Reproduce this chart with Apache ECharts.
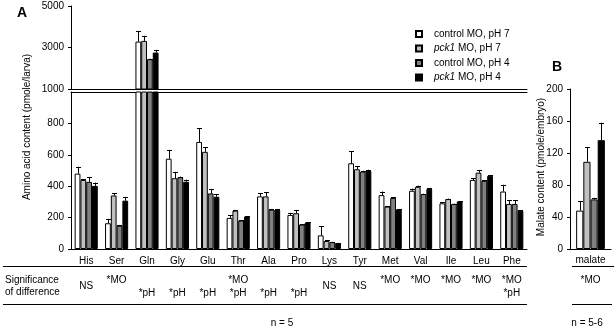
<!DOCTYPE html>
<html><head><meta charset="utf-8">
<script src="https://cdn.jsdelivr.net/npm/echarts@6/dist/echarts.min.js"></script>
<style>html,body{margin:0;padding:0;background:#fff}#c{width:614px;height:328px}</style>
</head><body><div id="c"></div>
<script>
const FONT = "'Liberation Sans', Arial, sans-serif";
const categories = ['His','Ser','Gln','Gly','Glu','Thr','Ala','Pro','Lys','Tyr','Met','Val','Ile','Leu','Phe'];
const seriesNames = ['control MO, pH 7','pck1 MO, pH 7','control MO, pH 4','pck1 MO, pH 4'];
const seriesColors = ['#ffffff','#c0c0c0','#808080','#000000'];
// panel A values (pmole/larva) and upward error
const ctrl7    = [480,164,3285,575,682,198,335,217,87,546,343,371,291,440,366];
const ctrl7Err = [44,28,513,57,89,17,19,13,58,78,23,14,7,11,43];
const pck7     = [440,341,3319,451,619,244,335,228,51,508,270,396,318,486,287];
const pck7Err  = [5,13,240,40,30,5,25,21,4,19,3,8,3,16,25];
const ctrl4    = [428,148,2440,457,354,181,251,156,44,493,325,350,287,434,287];
const ctrl4Err = [31,5,20,4,25,3,4,2,2,5,5,2,2,3,25];
const pck4     = [402,308,2757,428,333,207,251,169,38,497,253,383,303,466,244];
const pck4Err  = [21,21,130,14,17,3,4,2,1,8,2,3,2,4,2];
const significance = ['NS','*MO','*pH','*pH','*pH','*MO\n*pH','*pH','*pH','NS','NS','*MO','*MO','*MO','*MO','*MO\n*pH'];
const lowerTicks = [0,200,400,600,800];
const upperTicks = [1000,3000,5000];
const breakValue = 1000;
// panel B
const malateCategories = ['malate'];
const malate    = [48,109,62,136];
const malateErr = [12,18,2,22];
const malateSignificance = ['*MO'];

const valsA = [ctrl7, pck7, ctrl4, pck4];
const errsA = [ctrl7Err, pck7Err, ctrl4Err, pck4Err];

const GAP_A = 0.24, GAP_B = 0.30;
const txt = {color:'#000', fontFamily: FONT, fontSize: 10};
const plain = v => String(v);

function sigFormatter(v){
  if (v === 'NS') return '{m|NS}';
  if (v.indexOf('\n') >= 0) return v.split('\n').map(s => '{r|' + s + '}').join('\n');
  if (v === '*MO') return '{r|*MO}\n{r| }';
  return '{r| }\n{r|' + v + '}';
}
const sigRich = {r:{lineHeight:13, fontSize:10, fontFamily:FONT, color:'#000'}, m:{lineHeight:26, fontSize:10, fontFamily:FONT, color:'#000'}};

function errRender(gap){
  return function(params, api){
    const idx = api.value(0), top = api.value(1), err = api.value(2), k = api.value(3);
    const band = api.size([1,0])[0];
    const bw = band * (1 - gap) / 4;
    const c = api.coord([idx, top]);
    const e = api.coord([idx, top + err]);
    const x = Math.round(c[0] + (k - 1.5) * bw) + 0.5;
    const st = {stroke:'#000', lineWidth:1};
    return {type:'group', children:[
      {type:'line', shape:{x1:x, y1:c[1], x2:x, y2:e[1]}, style:st},
      {type:'line', shape:{x1:x-2.5, y1:Math.round(e[1])+0.5, x2:x+2.5, y2:Math.round(e[1])+0.5}, style:st}
    ]};
  };
}

const series = [];
seriesNames.forEach((name, k) => {
  const itemStyle = {color: seriesColors[k], borderColor:'#000', borderWidth:1};
  series.push({type:'bar', name, xAxisIndex:0, yAxisIndex:0, data: valsA[k], barGap:'0%', barCategoryGap: (GAP_A*100)+'%', itemStyle, silent:true});
  series.push({type:'bar', name, xAxisIndex:3, yAxisIndex:1, data: valsA[k].map(v => v > breakValue ? v : '-'), barGap:'0%', barCategoryGap:(GAP_A*100)+'%', itemStyle, silent:true});
  series.push({type:'bar', name, xAxisIndex:4, yAxisIndex:2, data:[malate[k]], barGap:'0%', barCategoryGap:(GAP_B*100)+'%', itemStyle, silent:true});
});
const errLow = [], errHigh = [];
valsA.forEach((arr, k) => arr.forEach((v, i) => {
  const item = [i, v, errsA[k][i], k];
  if (v > breakValue) errHigh.push(item); else errLow.push(item);
}));
series.push({type:'custom', name:'errLow', xAxisIndex:0, yAxisIndex:0, data: errLow, encode:{x:0,y:1}, renderItem: errRender(GAP_A), silent:true, z:3});
series.push({type:'custom', name:'errHigh', xAxisIndex:3, yAxisIndex:1, data: errHigh, encode:{x:0,y:1}, renderItem: errRender(GAP_A), silent:true, z:3});
series.push({type:'custom', name:'errB', xAxisIndex:4, yAxisIndex:2, data: malate.map((v,k) => [0, v, malateErr[k], k]), encode:{x:0,y:1}, renderItem: errRender(GAP_B), silent:true, z:3});

const axLine = {show:true, lineStyle:{color:'#000', width:1}};
const option = {
  animation:false,
  backgroundColor:'#fff',
  textStyle:{fontFamily:FONT},
  grid:[
    {left:71, right:87, top:92, bottom:79},
    {left:71, right:87, top:6, bottom:239},
    {left:570, right:3, top:89, bottom:79}
  ],
  legend:{
    orient:'vertical', left:410, top:23, itemWidth:6, itemHeight:6, itemGap:2.5, icon:'rect',
    data: seriesNames,
    formatter: n => '{s|}' + (n.indexOf('pck1') === 0 ? '{i|pck1}' + n.slice(4) : n),
    textStyle:{color:'#000', fontSize:10, fontFamily:FONT, lineHeight:12,
      rich:{s:{width:7}, i:{fontStyle:'italic', fontSize:10, fontFamily:FONT, color:'#000'}}}
  },
  xAxis:[
    {gridIndex:0, type:'category', data:categories, position:'bottom', axisLine:axLine, axisTick:{show:false}, axisLabel:{...txt, margin:7, interval:0}},
    {gridIndex:0, type:'category', data:categories, position:'top', axisLine:axLine, axisTick:{show:false}, axisLabel:{show:false}},
    {gridIndex:0, type:'category', data:significance, position:'bottom', axisLine:{show:false}, axisTick:{show:false},
      axisLabel:{...txt, margin:24.5, interval:0, formatter: sigFormatter, rich: sigRich}},
    {gridIndex:1, type:'category', data:categories, position:'bottom', axisLine:axLine, axisTick:{show:false}, axisLabel:{show:false}},
    {gridIndex:2, type:'category', data:malateCategories, position:'bottom', axisLine:axLine, axisTick:{show:false}, axisLabel:{...txt, margin:6}},
    {gridIndex:2, type:'category', data:malateSignificance, position:'bottom', axisLine:{show:false}, axisTick:{show:false},
      axisLabel:{...txt, margin:24.5, formatter: sigFormatter, rich: sigRich}}
  ],
  yAxis:[
    {gridIndex:0, type:'value', min:0, max:breakValue, axisLine:axLine, splitLine:{show:false},
      axisTick:{show:true, length:3, lineStyle:{color:'#000'}, customValues: lowerTicks},
      axisLabel:{...txt, margin:7, customValues: lowerTicks, formatter: plain}},
    {gridIndex:1, type:'value', min:1000, max:5000, axisLine:axLine, splitLine:{show:false},
      axisTick:{show:true, length:3, lineStyle:{color:'#000'}, customValues: upperTicks},
      axisLabel:{...txt, margin:7, customValues: upperTicks, formatter: plain}},
    {gridIndex:2, type:'value', min:0, max:200, interval:40, axisLine:axLine, splitLine:{show:false},
      axisTick:{show:true, length:3, lineStyle:{color:'#000'}},
      axisLabel:{...txt, margin:7, formatter: plain}}
  ],
  graphic:[
    {type:'text', x:17, y:6, style:{text:'A', fontSize:14, fontWeight:'bold', fontFamily:FONT, fill:'#000'}},
    {type:'text', x:552, y:60, style:{text:'B', fontSize:14, fontWeight:'bold', fontFamily:FONT, fill:'#000'}},
    {type:'text', x:27, y:127, rotation:Math.PI/2, style:{text:'Amino acid content (pmole/larva)', align:'center', verticalAlign:'middle', fontSize:10, fontFamily:FONT, fill:'#000'}},
    {type:'text', x:541, y:167, rotation:Math.PI/2, style:{text:'Malate content (pmole/embryo)', align:'center', verticalAlign:'middle', fontSize:10, fontFamily:FONT, fill:'#000'}},
    {type:'line', shape:{x1:3, y1:266.5, x2:527, y2:266.5}, style:{stroke:'#000', lineWidth:1}},
    {type:'line', shape:{x1:3, y1:304.5, x2:527, y2:304.5}, style:{stroke:'#000', lineWidth:1}},
    {type:'line', shape:{x1:572, y1:266.5, x2:614, y2:266.5}, style:{stroke:'#000', lineWidth:1}},
    {type:'line', shape:{x1:572, y1:304.5, x2:612, y2:304.5}, style:{stroke:'#000', lineWidth:1}},
    {type:'text', x:5, y:280, style:{text:'Significance', verticalAlign:'middle', fontSize:10, fontFamily:FONT, fill:'#000'}},
    {type:'text', x:5, y:292, style:{text:'of difference', verticalAlign:'middle', fontSize:10, fontFamily:FONT, fill:'#000'}},
    {type:'text', x:282, y:323, style:{text:'n = 5', align:'center', verticalAlign:'middle', fontSize:10, fontFamily:FONT, fill:'#000'}},
    {type:'text', x:587, y:323, style:{text:'n = 5-6', align:'center', verticalAlign:'middle', fontSize:10, fontFamily:FONT, fill:'#000'}}
  ],
  series
};
const chart = echarts.init(document.getElementById('c'), null, {renderer:'canvas'});
chart.setOption(option);
</script></body></html>
